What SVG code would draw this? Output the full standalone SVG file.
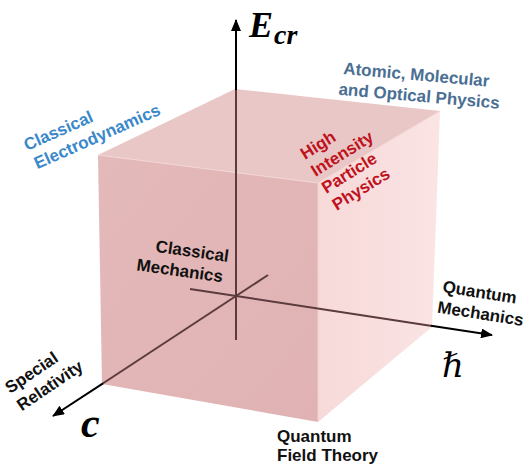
<svg xmlns="http://www.w3.org/2000/svg" width="527" height="466" viewBox="0 0 527 466">
<defs>
<marker id="ah" viewBox="0 0 12 10" refX="11" refY="5" markerWidth="12" markerHeight="10" markerUnits="userSpaceOnUse" orient="auto">
<path d="M0,0 L12,5 L0,10 z" fill="#000"/>
</marker>
<linearGradient id="gFront" x1="0" y1="0" x2="1" y2="1">
<stop offset="0" stop-color="#e4b9b9"/>
<stop offset="1" stop-color="#e0b2b3"/>
</linearGradient>
<linearGradient id="gRight" x1="0" y1="0" x2="1" y2="0">
<stop offset="0" stop-color="#f7d9d9"/>
<stop offset="1" stop-color="#fbe4e4"/>
</linearGradient>
<style>
.lbl{font-family:"Liberation Sans",Arial,sans-serif;font-weight:bold;font-size:17px}
.blk{fill:#111}
.ax{stroke:#000;stroke-width:2;fill:none}
.axi{stroke:#5b3b3d;stroke-width:2;fill:none}
.math{font-family:"Liberation Serif","Times New Roman",serif;font-weight:bold;font-style:italic;fill:#000}
</style>
</defs>
<rect width="527" height="466" fill="#fff"/>
<g id="cube">
<polygon points="98,155 235,89 440,111 318,183" fill="#e9c7c7"/>
<polygon points="318,183 440,111 432,327 318,422" fill="url(#gRight)"/>
<polygon points="98,155 318,183 318,422 102,384" fill="url(#gFront)"/>
<polyline points="98,155 318,183 440,111" fill="none" stroke="#f2d6d6" stroke-width="1"/>
<line x1="318" y1="183" x2="318" y2="422" stroke="#f0d2d2" stroke-width="1"/>
</g>
<g id="connectors">
<line class="axi" x1="236" y1="340" x2="236" y2="89"/>
<line class="ax" x1="236" y1="90" x2="236" y2="20" marker-end="url(#ah)"/>
<line class="axi" x1="190" y1="289" x2="432" y2="326"/>
<line class="ax" x1="431" y1="325.8" x2="492" y2="335" marker-end="url(#ah)"/>
<line class="axi" x1="268" y1="275" x2="102" y2="384"/>
<line class="ax" x1="103" y1="383.3" x2="53" y2="416" marker-end="url(#ah)"/>
</g>
<g id="axis-E">
<text class="math" x="249" y="37" font-size="36">E</text>
<text class="math" x="274" y="44" font-size="28">cr</text>
</g>
<g id="axis-c">
<text class="math" x="81" y="437" font-size="42">c</text>
</g>
<g id="axis-hbar">
<text x="442" y="377" font-family="'DejaVu Serif',serif" font-style="italic" font-size="34" fill="#000">ℏ</text>
</g>
<g id="amo">
<text class="lbl" fill="#4a6f93" transform="translate(343,74) rotate(5)"><tspan x="0" y="0">Atomic, Molecular</tspan><tspan x="-3" y="21">and Optical Physics</tspan></text>
</g>
<g id="classical-electrodynamics">
<text class="lbl" fill="#3a88c9" transform="translate(27,151) rotate(-24)"><tspan x="0" y="0">Classical</tspan><tspan x="2" y="21">Electrodynamics</tspan></text>
</g>
<g id="hipp">
<text class="lbl" fill="#c0121c" transform="translate(305,160) rotate(-32)"><tspan x="0" y="0">High</tspan><tspan x="0" y="20">Intensity</tspan><tspan x="0" y="40">Particle</tspan><tspan x="0" y="60">Physics</tspan></text>
</g>
<g id="classical-mechanics">
<text class="lbl blk" text-anchor="end" transform="translate(228,262) rotate(8)"><tspan x="0" y="0">Classical</tspan><tspan x="-3" y="21">Mechanics</tspan></text>
</g>
<g id="quantum-mechanics">
<text class="lbl blk" transform="translate(442,292) rotate(9)"><tspan x="0" y="0">Quantum</tspan><tspan x="-2" y="21">Mechanics</tspan></text>
</g>
<g id="special-relativity">
<text class="lbl blk" transform="translate(10,394) rotate(-34)"><tspan x="0" y="0">Special</tspan><tspan x="0" y="21">Relativity</tspan></text>
</g>
<g id="qft">
<text class="lbl blk"><tspan x="277" y="442">Quantum</tspan><tspan x="277" y="461">Field Theory</tspan></text>
</g>
</svg>
